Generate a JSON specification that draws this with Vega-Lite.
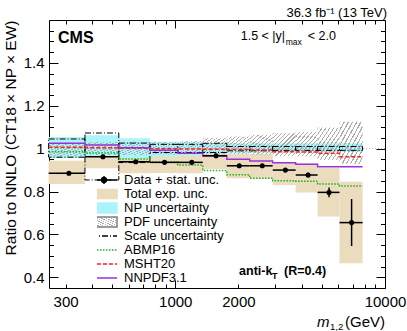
{
  "$schema": "https://vega.github.io/schema/vega-lite/v6.json",
  "width": 336,
  "height": 268,
  "autosize": {"type": "none"},
  "padding": {"left": 49, "top": 20, "right": 22, "bottom": 43},
  "background": "white",
  "config": {
    "view": {"stroke": null},
    "font": "Liberation Sans",
    "text": {"font": "Liberation Sans", "color": "black"},
    "axis": {"labelFont": "Liberation Sans", "titleFont": "Liberation Sans", "labelColor": "black", "titleColor": "black", "grid": false, "domainColor": "black", "tickColor": "black", "domainWidth": 1, "tickWidth": 1}
  },
  "params": [
    {"name": "hatch", "value": {"gradient": "linear", "x1": 0, "y1": 0, "x2": 1, "y2": 1, "stops": [
      {"offset": 0, "color": "#aaaaaa"}, {"offset": 0.0273, "color": "#aaaaaa"}, {"offset": 0.0273, "color": "rgba(255,255,255,0)"}, {"offset": 0.0909, "color": "rgba(255,255,255,0)"},
      {"offset": 0.0909, "color": "#aaaaaa"}, {"offset": 0.1182, "color": "#aaaaaa"}, {"offset": 0.1182, "color": "rgba(255,255,255,0)"}, {"offset": 0.1818, "color": "rgba(255,255,255,0)"},
      {"offset": 0.1818, "color": "#aaaaaa"}, {"offset": 0.2091, "color": "#aaaaaa"}, {"offset": 0.2091, "color": "rgba(255,255,255,0)"}, {"offset": 0.2727, "color": "rgba(255,255,255,0)"},
      {"offset": 0.2727, "color": "#aaaaaa"}, {"offset": 0.3, "color": "#aaaaaa"}, {"offset": 0.3, "color": "rgba(255,255,255,0)"}, {"offset": 0.3636, "color": "rgba(255,255,255,0)"},
      {"offset": 0.3636, "color": "#aaaaaa"}, {"offset": 0.3909, "color": "#aaaaaa"}, {"offset": 0.3909, "color": "rgba(255,255,255,0)"}, {"offset": 0.4545, "color": "rgba(255,255,255,0)"},
      {"offset": 0.4545, "color": "#aaaaaa"}, {"offset": 0.4818, "color": "#aaaaaa"}, {"offset": 0.4818, "color": "rgba(255,255,255,0)"}, {"offset": 0.5455, "color": "rgba(255,255,255,0)"},
      {"offset": 0.5455, "color": "#aaaaaa"}, {"offset": 0.5727, "color": "#aaaaaa"}, {"offset": 0.5727, "color": "rgba(255,255,255,0)"}, {"offset": 0.6364, "color": "rgba(255,255,255,0)"},
      {"offset": 0.6364, "color": "#aaaaaa"}, {"offset": 0.6636, "color": "#aaaaaa"}, {"offset": 0.6636, "color": "rgba(255,255,255,0)"}, {"offset": 0.7273, "color": "rgba(255,255,255,0)"},
      {"offset": 0.7273, "color": "#aaaaaa"}, {"offset": 0.7545, "color": "#aaaaaa"}, {"offset": 0.7545, "color": "rgba(255,255,255,0)"}, {"offset": 0.8182, "color": "rgba(255,255,255,0)"},
      {"offset": 0.8182, "color": "#aaaaaa"}, {"offset": 0.8455, "color": "#aaaaaa"}, {"offset": 0.8455, "color": "rgba(255,255,255,0)"}, {"offset": 0.9091, "color": "rgba(255,255,255,0)"},
      {"offset": 0.9091, "color": "#aaaaaa"}, {"offset": 0.9364, "color": "#aaaaaa"}, {"offset": 0.9364, "color": "rgba(255,255,255,0)"}, {"offset": 1, "color": "rgba(255,255,255,0)"}
    ]}}
  ],
  "datasets": {
    "bins": [
      {"lo": 249, "hi": 371, "m": 311, "r": 0.885, "slo": 0.881, "shi": 0.889, "tlo": 0.835, "thi": 0.944, "nplo": 0.956, "nphi": 1.054, "pdflo": 0.965, "pdfhi": 1.025, "sclo": 0.96, "schi": 1.045},
      {"lo": 371, "hi": 538, "m": 452, "r": 0.962, "slo": 0.958, "shi": 0.966, "tlo": 0.908, "thi": 1.016, "nplo": 0.965, "nphi": 1.062, "pdflo": 0.97, "pdfhi": 1.03, "sclo": 0.854, "schi": 1.073},
      {"lo": 538, "hi": 757, "m": 648, "r": 0.939, "slo": 0.935, "shi": 0.943, "tlo": 0.885, "thi": 0.99, "nplo": 0.955, "nphi": 1.048, "pdflo": 0.97, "pdfhi": 1.03, "sclo": 0.935, "schi": 1.026},
      {"lo": 757, "hi": 1028, "m": 889, "r": 0.936, "slo": 0.932, "shi": 0.94, "tlo": 0.886, "thi": 0.986, "nplo": 0.962, "nphi": 1.032, "pdflo": 0.972, "pdfhi": 1.03, "sclo": 0.982, "schi": 1.02},
      {"lo": 1028, "hi": 1353, "m": 1199, "r": 0.936, "slo": 0.932, "shi": 0.94, "tlo": 0.885, "thi": 0.985, "nplo": 0.968, "nphi": 1.03, "pdflo": 0.974, "pdfhi": 1.035, "sclo": 0.982, "schi": 1.02},
      {"lo": 1353, "hi": 1761, "m": 1565, "r": 0.967, "slo": 0.962, "shi": 0.972, "tlo": 0.905, "thi": 1.025, "nplo": 0.975, "nphi": 1.026, "pdflo": 0.975, "pdfhi": 1.048, "sclo": 0.982, "schi": 1.025},
      {"lo": 1761, "hi": 2265, "m": 2018, "r": 0.92, "slo": 0.915, "shi": 0.925, "tlo": 0.862, "thi": 0.975, "nplo": 0.978, "nphi": 1.025, "pdflo": 0.975, "pdfhi": 1.056, "sclo": 0.99, "schi": 1.01},
      {"lo": 2265, "hi": 2914, "m": 2600, "r": 0.92, "slo": 0.914, "shi": 0.926, "tlo": 0.86, "thi": 0.975, "nplo": 0.98, "nphi": 1.025, "pdflo": 0.972, "pdfhi": 1.064, "sclo": 0.99, "schi": 1.01},
      {"lo": 2914, "hi": 3750, "m": 3350, "r": 0.9, "slo": 0.893, "shi": 0.907, "tlo": 0.83, "thi": 0.934, "nplo": 0.983, "nphi": 1.025, "pdflo": 0.965, "pdfhi": 1.072, "sclo": 0.992, "schi": 1.01},
      {"lo": 3750, "hi": 4772, "m": 4300, "r": 0.877, "slo": 0.867, "shi": 0.887, "tlo": 0.796, "thi": 0.931, "nplo": 0.985, "nphi": 1.025, "pdflo": 0.965, "pdfhi": 1.079, "sclo": 0.992, "schi": 1.01},
      {"lo": 4772, "hi": 6070, "m": 5410, "r": 0.796, "slo": 0.773, "shi": 0.819, "tlo": 0.683, "thi": 0.91, "nplo": 0.985, "nphi": 1.025, "pdflo": 0.947, "pdfhi": 1.098, "sclo": 0.992, "schi": 1.01},
      {"lo": 6070, "hi": 7820, "m": 6930, "r": 0.655, "slo": 0.546, "shi": 0.765, "tlo": 0.465, "thi": 0.846, "nplo": 0.985, "nphi": 1.025, "pdflo": 0.93, "pdfhi": 1.126, "sclo": 0.992, "schi": 1.01}
    ],
    "theory": [
      {"series": "ABMP16", "m": 249, "v": 0.986}, {"series": "ABMP16", "m": 371, "v": 0.98}, {"series": "ABMP16", "m": 538, "v": 0.952}, {"series": "ABMP16", "m": 757, "v": 0.938}, {"series": "ABMP16", "m": 1028, "v": 0.924}, {"series": "ABMP16", "m": 1353, "v": 0.898}, {"series": "ABMP16", "m": 1761, "v": 0.878}, {"series": "ABMP16", "m": 2265, "v": 0.862}, {"series": "ABMP16", "m": 2914, "v": 0.85}, {"series": "ABMP16", "m": 3750, "v": 0.848}, {"series": "ABMP16", "m": 4772, "v": 0.835}, {"series": "ABMP16", "m": 6070, "v": 0.826}, {"series": "ABMP16", "m": 7820, "v": 0.826},
      {"series": "MSHT20", "m": 249, "v": 1.006}, {"series": "MSHT20", "m": 371, "v": 1.004}, {"series": "MSHT20", "m": 538, "v": 1.002}, {"series": "MSHT20", "m": 757, "v": 1.0}, {"series": "MSHT20", "m": 1028, "v": 0.998}, {"series": "MSHT20", "m": 1353, "v": 0.997}, {"series": "MSHT20", "m": 1761, "v": 0.996}, {"series": "MSHT20", "m": 2265, "v": 0.994}, {"series": "MSHT20", "m": 2914, "v": 0.985}, {"series": "MSHT20", "m": 3750, "v": 0.984}, {"series": "MSHT20", "m": 4772, "v": 0.978}, {"series": "MSHT20", "m": 6070, "v": 0.962}, {"series": "MSHT20", "m": 7820, "v": 0.962},
      {"series": "NNPDF3.1", "m": 249, "v": 1.025}, {"series": "NNPDF3.1", "m": 371, "v": 1.017}, {"series": "NNPDF3.1", "m": 538, "v": 1.004}, {"series": "NNPDF3.1", "m": 757, "v": 0.992}, {"series": "NNPDF3.1", "m": 1028, "v": 0.978}, {"series": "NNPDF3.1", "m": 1353, "v": 0.966}, {"series": "NNPDF3.1", "m": 1761, "v": 0.95}, {"series": "NNPDF3.1", "m": 2265, "v": 0.942}, {"series": "NNPDF3.1", "m": 2914, "v": 0.934}, {"series": "NNPDF3.1", "m": 3750, "v": 0.927}, {"series": "NNPDF3.1", "m": 4772, "v": 0.916}, {"series": "NNPDF3.1", "m": 6070, "v": 0.916}, {"series": "NNPDF3.1", "m": 7820, "v": 0.916}
    ]
  },
  "layer": [
    {
      "data": {"name": "bins"},
      "mark": {"type": "rect", "fill": "#eadcbc"},
      "encoding": {
        "x": {"field": "lo", "type": "quantitative", "scale": {"type": "log", "domain": [250, 10000], "nice": false},
          "axis": {"orient": "bottom", "values": [300, 1000, 2000, 10000], "format": "d", "ticks": false, "labelFontSize": 15, "labelPadding": 6, "labelFlush": false, "labelOverlap": false, "domain": true, "title": null, "grid": false}},
        "x2": {"field": "hi"},
        "y": {"field": "tlo", "type": "quantitative", "scale": {"domain": [0.35, 1.6], "nice": false, "zero": false},
          "axis": {"orient": "left", "values": [0.4, 0.6, 0.8, 1, 1.2, 1.4], "format": ".1~f", "ticks": false, "labelFontSize": 15, "labelPadding": 5, "labelOverlap": false, "domain": true, "grid": false,
            "title": "Ratio to NNLO (CT18 × NP × EW)", "titleFontSize": 15.5, "titleFontWeight": "normal", "titleX": -39, "titleY": 0, "titleAlign": "right", "titleAngle": 270, "titleBaseline": "middle"}},
        "y2": {"field": "thi"}
      }
    },
    {
      "data": {"name": "bins"},
      "mark": {"type": "rect", "fill": "#aaf4fa"},
      "encoding": {
        "x": {"field": "lo", "type": "quantitative", "axis": {"orient": "bottom", "values": [1000, 10000], "labels": false, "domain": false, "ticks": true, "tickSize": -8, "title": null, "grid": false}},
        "x2": {"field": "hi"},
        "y": {"field": "nplo", "type": "quantitative", "axis": {"orient": "left", "values": [0.4, 0.6, 0.8, 1, 1.2, 1.4], "labels": false, "domain": false, "ticks": true, "tickSize": -9, "title": null, "grid": false}},
        "y2": {"field": "nphi"}
      }
    },
    {
      "data": {"name": "bins"},
      "mark": {"type": "rect", "fill": {"expr": "hatch"}},
      "encoding": {
        "x": {"field": "lo", "type": "quantitative", "axis": {"orient": "bottom", "values": [300, 400, 500, 600, 700, 800, 900, 2000, 3000, 4000, 5000, 6000, 7000, 8000, 9000], "labels": false, "domain": false, "ticks": true, "tickSize": -4, "title": null, "grid": false}},
        "x2": {"field": "hi"},
        "y": {"field": "pdflo", "type": "quantitative", "axis": {"orient": "left", "values": [0.45, 0.5, 0.55, 0.65, 0.7, 0.75, 0.85, 0.9, 0.95, 1.05, 1.1, 1.15, 1.25, 1.3, 1.35, 1.45, 1.5, 1.55], "labels": false, "domain": false, "ticks": true, "tickSize": -4.5, "title": null, "grid": false}},
        "y2": {"field": "pdfhi"}
      }
    },
    {
      "data": {"name": "bins"},
      "mark": {"type": "rect", "fill": null, "fillOpacity": 0, "stroke": "black", "strokeWidth": 1, "strokeDash": [6, 2, 1, 2]},
      "encoding": {
        "x": {"field": "lo", "type": "quantitative", "axis": {"orient": "top", "values": [1000, 10000], "labels": false, "domain": true, "ticks": true, "tickSize": -8, "title": null, "grid": false}},
        "x2": {"field": "hi"},
        "y": {"field": "sclo", "type": "quantitative", "axis": {"orient": "right", "values": [0.4, 0.6, 0.8, 1, 1.2, 1.4], "labels": false, "domain": true, "ticks": true, "tickSize": -9, "title": null, "grid": false}},
        "y2": {"field": "schi"}
      }
    },
    {
      "data": {"values": [{}]},
      "mark": {"type": "rule", "color": "#aaaaaa", "strokeDash": [1, 2], "strokeWidth": 1},
      "encoding": {"y": {"datum": 1, "type": "quantitative", "axis": null}}
    },
    {
      "data": {"name": "theory"},
      "mark": {"type": "line", "interpolate": "step-after", "strokeWidth": 1.5},
      "encoding": {
        "x": {"field": "m", "type": "quantitative", "axis": null},
        "y": {"field": "v", "type": "quantitative", "axis": null},
        "stroke": {"field": "series", "type": "nominal",
          "scale": {"domain": ["Data + stat. unc.", "Total exp. unc.", "NP uncertainty", "PDF uncertainty", "Scale uncertainty", "ABMP16", "MSHT20", "NNPDF3.1"],
                    "range": ["black", "#eadcbc", "#aaf4fa", "#808080", "black", "#20b020", "#ff2020", "#9b30d9"]},
          "legend": {
            "orient": "none", "legendX": 48, "legendY": 153, "title": null, "padding": 0, "rowPadding": 0, "clipHeight": 14, "symbolSize": 144,
            "labelFont": "Liberation Sans", "labelFontSize": 13, "labelColor": "black", "labelOffset": 13, "labelLimit": 300,
            "encode": {"symbols": {"update": {
              "shape": {"signal": "datum.value === 'Data + stat. unc.' ? 'M-2.17,0H2.17M0,-0.67V0.67M-0.4,0A0.4,0.4 0 1,0 0.4,0A0.4,0.4 0 1,0 -0.4,0' : datum.value === 'Total exp. unc.' ? 'M-2.17,-0.75H2.17V0.75H-2.17Z' : (datum.value === 'NP uncertainty' || datum.value === 'PDF uncertainty') ? 'M-2.17,-0.83H2.17V0.83H-2.17Z' : 'M-2.17,0H2.17'"},
              "fill": {"signal": "datum.value === 'Data + stat. unc.' ? 'black' : datum.value === 'Total exp. unc.' ? '#eadcbc' : datum.value === 'NP uncertainty' ? '#aaf4fa' : datum.value === 'PDF uncertainty' ? hatch : 'transparent'"},
              "stroke": {"signal": "(datum.value === 'Data + stat. unc.' || datum.value === 'Scale uncertainty') ? 'black' : datum.value === 'ABMP16' ? '#20b020' : datum.value === 'MSHT20' ? '#ff2020' : datum.value === 'NNPDF3.1' ? '#9b30d9' : 'transparent'"},
              "strokeDash": {"signal": "datum.value === 'Scale uncertainty' ? [6,2,1,2] : datum.value === 'ABMP16' ? [1.5,1.5] : datum.value === 'MSHT20' ? [4,2] : []"},
              "strokeWidth": {"value": 1.5},
              "opacity": {"value": 1},
              "fillOpacity": {"value": 1},
              "strokeOpacity": {"value": 1}
            }}}
          }},
        "strokeDash": {"field": "series", "type": "nominal", "scale": {"domain": ["ABMP16", "MSHT20", "NNPDF3.1"], "range": [[1.5, 1.5], [4, 2], [1, 0]]}, "legend": null}
      }
    },
    {
      "data": {"name": "bins"},
      "mark": {"type": "rule", "color": "black", "strokeWidth": 1.5},
      "encoding": {
        "x": {"field": "lo", "type": "quantitative", "axis": {"orient": "top", "values": [300, 400, 500, 600, 700, 800, 900, 2000, 3000, 4000, 5000, 6000, 7000, 8000, 9000], "labels": false, "domain": false, "ticks": true, "tickSize": -4, "title": null, "grid": false}},
        "x2": {"field": "hi"},
        "y": {"field": "r", "type": "quantitative", "axis": {"orient": "right", "values": [0.45, 0.5, 0.55, 0.65, 0.7, 0.75, 0.85, 0.9, 0.95, 1.05, 1.1, 1.15, 1.25, 1.3, 1.35, 1.45, 1.5, 1.55], "labels": false, "domain": false, "ticks": true, "tickSize": -4.5, "title": null, "grid": false}}
      }
    },
    {
      "data": {"name": "bins"},
      "mark": {"type": "rule", "color": "black", "strokeWidth": 1.5},
      "encoding": {
        "x": {"field": "m", "type": "quantitative", "axis": null},
        "y": {"field": "slo", "type": "quantitative", "axis": null},
        "y2": {"field": "shi"}
      }
    },
    {
      "data": {"name": "bins"},
      "mark": {"type": "point", "shape": "circle", "filled": true, "color": "black", "size": 26, "opacity": 1},
      "encoding": {
        "x": {"field": "m", "type": "quantitative", "axis": null},
        "y": {"field": "r", "type": "quantitative", "axis": null}
      }
    },
    {
      "data": {"values": [{"t": "CMS"}]},
      "mark": {"type": "text", "fontSize": 16, "fontWeight": "bold", "align": "left", "baseline": "alphabetic"},
      "encoding": {"x": {"datum": 276, "axis": null}, "y": {"datum": 1.4913, "axis": null}, "text": {"field": "t"}}
    },
    {
      "data": {"values": [{"t": "36.3 fb⁻¹ (13 TeV)"}]},
      "mark": {"type": "text", "fontSize": 13, "align": "right", "baseline": "alphabetic", "dx": 2, "dy": -3.3},
      "encoding": {"x": {"datum": 10000, "axis": null}, "y": {"datum": 1.6, "axis": null}, "text": {"field": "t"}}
    },
    {
      "data": {"values": [{"t": "1.5 < |y|"}]},
      "mark": {"type": "text", "fontSize": 12.5, "align": "left", "baseline": "alphabetic"},
      "encoding": {"x": {"datum": 2052, "axis": null}, "y": {"datum": 1.5067, "axis": null}, "text": {"field": "t"}}
    },
    {
      "data": {"values": [{"t": "max"}]},
      "mark": {"type": "text", "fontSize": 8.5, "align": "left", "baseline": "alphabetic", "dx": 45, "dy": 5},
      "encoding": {"x": {"datum": 2052, "axis": null}, "y": {"datum": 1.5067, "axis": null}, "text": {"field": "t"}}
    },
    {
      "data": {"values": [{"t": "< 2.0"}]},
      "mark": {"type": "text", "fontSize": 12.5, "align": "left", "baseline": "alphabetic", "dx": 67},
      "encoding": {"x": {"datum": 2052, "axis": null}, "y": {"datum": 1.5067, "axis": null}, "text": {"field": "t"}}
    },
    {
      "data": {"values": [{"t": "anti-k"}]},
      "mark": {"type": "text", "fontSize": 12.5, "fontWeight": "bold", "align": "left", "baseline": "alphabetic"},
      "encoding": {"x": {"datum": 2014, "axis": null}, "y": {"datum": 0.4106, "axis": null}, "text": {"field": "t"}}
    },
    {
      "data": {"values": [{"t": "T"}]},
      "mark": {"type": "text", "fontSize": 9, "fontWeight": "bold", "align": "left", "baseline": "alphabetic", "dx": 33, "dy": 3.5},
      "encoding": {"x": {"datum": 2014, "axis": null}, "y": {"datum": 0.4106, "axis": null}, "text": {"field": "t"}}
    },
    {
      "data": {"values": [{"t": "(R=0.4)"}]},
      "mark": {"type": "text", "fontSize": 12.5, "fontWeight": "bold", "align": "left", "baseline": "alphabetic", "dx": 45},
      "encoding": {"x": {"datum": 2014, "axis": null}, "y": {"datum": 0.4106, "axis": null}, "text": {"field": "t"}}
    },
    {
      "data": {"values": [{"t": "(GeV)"}]},
      "mark": {"type": "text", "fontSize": 15, "align": "right", "baseline": "alphabetic", "dy": 38.5},
      "encoding": {"x": {"datum": 10000, "axis": null}, "y": {"datum": 0.35, "axis": null}, "text": {"field": "t"}}
    },
    {
      "data": {"values": [{"t": "1,2"}]},
      "mark": {"type": "text", "fontSize": 9.5, "align": "left", "baseline": "alphabetic", "dx": -55, "dy": 41.5},
      "encoding": {"x": {"datum": 10000, "axis": null}, "y": {"datum": 0.35, "axis": null}, "text": {"field": "t"}}
    },
    {
      "data": {"values": [{"t": "m"}]},
      "mark": {"type": "text", "fontSize": 15, "fontStyle": "italic", "align": "left", "baseline": "alphabetic", "dx": -68, "dy": 38.5},
      "encoding": {"x": {"datum": 10000, "axis": null}, "y": {"datum": 0.35, "axis": null}, "text": {"field": "t"}}
    }
  ],
  "resolve": {"axis": {"x": "independent", "y": "independent"}}
}
